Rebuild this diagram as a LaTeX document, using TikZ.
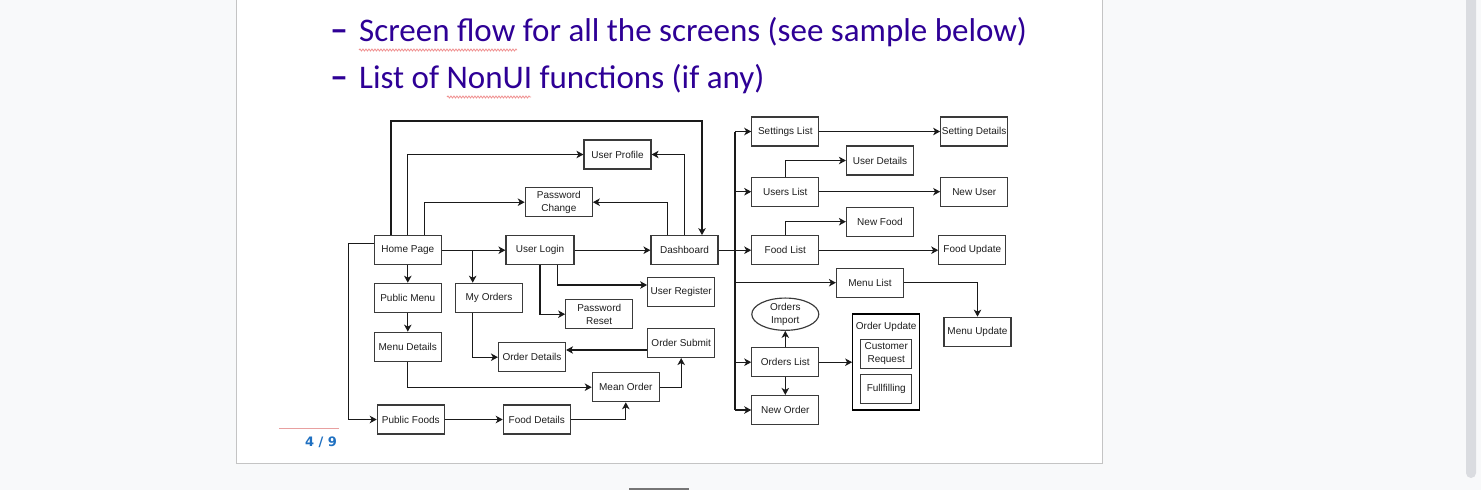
\documentclass[tikz,border=0pt]{standalone}
\usepackage{fontspec}
\setmainfont{Liberation Sans}
\newfontfamily\titlefont{Carlito}
\newfontfamily\pagefont{DejaVu Sans}
\usetikzlibrary{arrows.meta,shapes.geometric,decorations.pathmorphing}
\definecolor{bg}{HTML}{F8F9FA}
\definecolor{pageborder}{HTML}{C4C4C4}
\definecolor{boxc}{HTML}{3A3A3A}
\definecolor{linec}{HTML}{1A1A1A}
\definecolor{txt}{HTML}{1E1E1E}
\definecolor{titleblue}{HTML}{2E0096}
\definecolor{squig}{HTML}{F09090}
\definecolor{pgblue}{HTML}{1F70C1}
\definecolor{pgred}{HTML}{E8A0A0}
\definecolor{scroll}{HTML}{DADCE0}
\definecolor{dark}{HTML}{767676}
\begin{document}
\begin{tikzpicture}[x=1pt,y=-1pt,
  box/.style={draw=boxc, line width=1.15pt, fill=white, minimum width=67pt, minimum height=29pt,
    inner sep=0pt, align=center, font=\fontsize{10}{13.5}\selectfont, text=txt},
  smallbox/.style={box, minimum width=51pt},
  line/.style={draw=linec, line width=1.05pt},
  arr/.style={line, -{Stealth[length=7pt,width=7.5pt,inset=2pt]}},
  title/.style={font=\titlefont\fontsize{33}{36}\selectfont, text=titleblue, inner sep=0pt, anchor=base west},
  wavy/.style={draw=squig, line width=0.8pt, decorate, decoration={snake, amplitude=1pt, segment length=3pt}}
]
% background and page
\useasboundingbox (0,0) rectangle (1481,490);
\fill[bg] (0,0) rectangle (1481,490);
\draw[fill=white, draw=pageborder, line width=1pt] (236.5,-2) rectangle (1102,463);
\fill[scroll, rounded corners=5pt] (1466,-8) rectangle (1476,478);
\fill[dark] (629,487.5) rectangle (689,492);

% title lines
\node[title, font=\titlefont\bfseries\fontsize{36}{36}\selectfont] (d1) at (330,41.7) {–};
\node[title] (t1) at (359,41.7) {Screen flow for all the screens (see sample below)};
\node[title, font=\titlefont\bfseries\fontsize{36}{36}\selectfont] (d2) at (330,88.3) {–};
\node[title] (t2) at (359,88.3) {List of NonUI functions (if any)};
\coordinate (s1a) at (359,50); \coordinate (s1b) at (517,50);
\coordinate (s2a) at (447,97); \coordinate (s2b) at (531,97);
\draw[wavy] (s1a) -- (s1b);
\draw[wavy] (s2a) -- (s2b);

% page number
\coordinate (pra) at (279,428); \coordinate (prb) at (339,428);
\draw[pgred, line width=1pt] (pra) -- (prb);
\node[font=\pagefont\bfseries\fontsize{13}{14}\selectfont, text=pgblue, inner sep=0pt] (pg) at (321,442) {4 / 9};

% nodes left part
\node[box] (home) at (407.8,250.2) {Home Page};
\node[box, minimum width=68pt] (login) at (540,250.2) {User Login};
\node[box] (dash) at (684.5,250.2) {Dashboard};
\node[box] (profile) at (617.5,154.5) {User Profile};
\node[box] (pwc) at (558.8,202.2) {Password\\Change};
\node[box] (pubmenu) at (407.8,297.8) {Public Menu};
\node[box] (myorders) at (489,297.8) {My Orders};
\node[box] (menudet) at (407.8,346.7) {Menu Details};
\node[box] (register) at (681.2,292.2) {User Register};
\node[box] (pwreset) at (599.2,314.2) {Password\\Reset};
\node[box] (orderdet) at (532,357.2) {Order Details};
\node[box] (submit) at (681.2,343) {Order Submit};
\node[box] (mean) at (625.8,387.2) {Mean Order};
\node[box] (pubfoods) at (410.8,419.5) {Public Foods};
\node[box] (fooddet) at (536.8,419.5) {Food Details};

% nodes right part
\node[box] (setlist) at (785.3,131.5) {Settings List};
\node[box] (setdet) at (974.2,131.5) {Setting Details};
\node[box] (userslist) at (785.3,191.7) {Users List};
\node[box] (userdet) at (880,160.5) {User Details};
\node[box] (newuser) at (974.2,191.7) {New User};
\node[box] (foodlist) at (785.3,250.2) {Food List};
\node[box] (newfood) at (880,221.7) {New Food};
\node[box] (foodupd) at (972.3,250.2) {Food Update};
\node[box] (menulist) at (870,282.7) {Menu List};
\node[box] (menuupd) at (977.5,331.7) {Menu Update};
\node[box, ellipse, minimum width=67pt, minimum height=28pt] (import) at (785.3,314.2) {Orders\\Import};
\node[box] (orderslist) at (785.3,362.2) {Orders List};
\node[box] (neworder) at (785.3,410) {New Order};
\node[box, draw=black, minimum height=96pt] (ordupd) at (886.2,362) {};
\node[font=\fontsize{10}{12}\selectfont, text=txt, inner sep=0pt] (ordupdlbl) at (886.2,326.7) {Order Update};
\node[smallbox] (custreq) at (886.2,353.7) {Customer\\Request};
\node[smallbox] (fulfil) at (886.2,388.8) {Fullfilling};

% waypoints
\coordinate (a1) at (391,121);
\coordinate (a2) at (702,121);
\coordinate (a3) at (424.3,202.2);
\coordinate (a4) at (667.7,202.2);
\coordinate (a5) at (472.7,250.2);
\coordinate (a6) at (600,350);
\coordinate (a7) at (557.3,285);
\coordinate (a8) at (348.3,243.3);
\coordinate (bt) at (735,131.5);
\coordinate (bb) at (735,410);

% connectors left
\draw[arr] (home.north -| a1) -- (a1) -- (a2) -- (dash.north -| a2);
\draw[arr] (home.north) |- (profile.west);
\draw[arr] (dash.north) |- (profile.east);
\draw[arr] (home.north -| a3) -- (a3) -- (pwc.west);
\draw[arr] (dash.north -| a4) -- (a4) -- (pwc.east);
\draw[arr] (home.east) -- (login.west);
\draw[arr] (login.east) -- (dash.west);
\draw[arr] (a5) -- (myorders.north -| a5);
\draw[arr] (home.south) -- (pubmenu.north);
\draw[arr] (pubmenu.south) -- (menudet.north);
\draw[arr] (menudet.south) |- (mean.west);
\draw[arr] (mean.east) -| (submit.south);
\draw[arr] (submit.west |- a6) -- (orderdet.east |- a6);
\draw[arr] (myorders.south -| a5) |- (orderdet.west);
\draw[arr] (login.south -| a7) -- (a7) -- (register.west |- a7);
\draw[arr] (login.south) |- (pwreset.west);
\draw[arr] (home.west |- a8) -- (a8) |- (pubfoods.west);
\draw[arr] (pubfoods.east) -- (fooddet.west);
\draw[arr] (fooddet.east) -| (mean.south);

% connectors right
\draw[arr] (dash.east) -- (foodlist.west);
\draw[line] (bt) -- (bb);
\draw[arr] (setlist.west -| bt) -- (setlist.west);
\draw[arr] (userslist.west -| bt) -- (userslist.west);
\draw[arr] (menulist.west -| bt) -- (menulist.west);
\draw[arr] (orderslist.west -| bt) -- (orderslist.west);
\draw[arr] (neworder.west -| bt) -- (neworder.west);
\draw[arr] (setlist.east) -- (setdet.west);
\draw[arr] (userslist.east) -- (newuser.west);
\draw[arr] (foodlist.east) -- (foodupd.west);
\draw[arr] (userslist.north) |- (userdet.west);
\draw[arr] (foodlist.north) |- (newfood.west);
\draw[arr] (menulist.east) -| (menuupd.north);
\draw[arr] (orderslist.north) -- (import.south);
\draw[arr] (orderslist.south) -- (neworder.north);
\draw[arr] (orderslist.east) -- (ordupd.west |- orderslist.east);
\end{tikzpicture}
\end{document}
